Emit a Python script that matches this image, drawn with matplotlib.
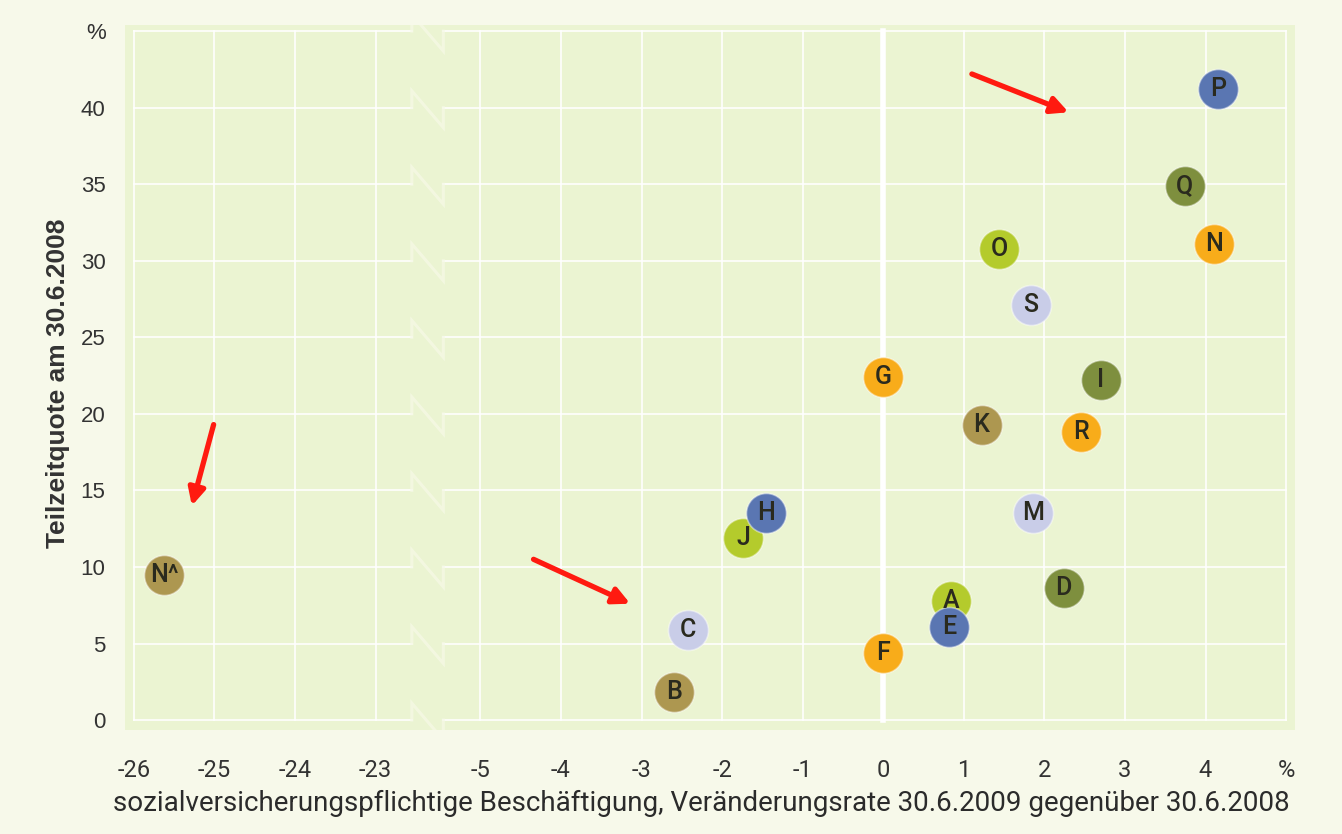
import numpy as np
import matplotlib
matplotlib.use('Agg')
import matplotlib.pyplot as plt

# ---- data ----
labels = ['P', 'Q', 'N', 'O', 'S', 'G', 'I', 'K', 'R', 'J', 'H', 'M', 'D', 'A', 'E', 'C', 'F', 'B', 'N^']
x_change = [4.15, 3.74, 4.10, 1.44, 1.83, 0.0, 2.70, 1.22, 2.45, -1.74, -1.46, 1.86, 2.24, 0.84, 0.82, -2.42, 0.0, -2.60, -25.62]
y_part = [41.2, 34.9, 31.1, 30.8, 27.1, 22.4, 22.2, 19.3, 18.8, 11.9, 13.5, 13.5, 8.6, 7.8, 6.1, 5.9, 4.4, 1.8, 9.5]
groups = ['blue', 'olive', 'orange', 'lime', 'lav', 'orange', 'olive', 'tan', 'orange', 'lime', 'blue', 'lav', 'olive', 'lime', 'blue', 'lav', 'orange', 'tan', 'tan']

x_ticks = [-26, -25, -24, -23, -5, -4, -3, -2, -1, 0, 1, 2, 3, 4, 5]
x_ticklabels = ['-26', '-25', '-24', '-23', '-5', '-4', '-3', '-2', '-1', '0', '1', '2', '3', '4', '%']
y_ticks = [0, 5, 10, 15, 20, 25, 30, 35, 40, 45]
y_ticklabels = ['0', '5', '10', '15', '20', '25', '30', '35', '40', '%']

# annotation arrows (start, end) in data coords
arrow_start = [(1.10, 42.2), (-25.01, 19.3), (-4.34, 10.5)]
arrow_end = [(2.30, 39.7), (-25.28, 14.0), (-3.14, 7.6)]

palette = {'blue': '#5a76b2', 'olive': '#7e8f3e', 'orange': '#f8ac1a',
           'lime': '#b4cb2c', 'lav': '#c9cde8', 'tan': '#ad9750'}

# ---- broken x-axis scale ----
def fwd(x):
    x = np.asarray(x, dtype=float)
    return np.where(x < -14, x + 26.0, x + 9.3)

def inv(u):
    u = np.asarray(u, dtype=float)
    return np.where(u < 3.65, u - 26.0, u - 9.3)

NARROW = ['Roboto', 'DejaVu Sans']
ARIAL = ['Liberation Sans', 'DejaVu Sans']

fig = plt.figure(figsize=(13.42, 8.34), dpi=100, facecolor='#f7f9ea')
ax = fig.add_axes([125 / 1342, 1 - 730 / 834, (1295 - 125) / 1342, (730 - 25) / 834])
ax.set_facecolor('#ebf4d2')
ax.set_xscale('function', functions=(fwd, inv))
ax.set_xlim(-26.11, 5.11)
ax.set_ylim(-0.65, 45.4)
for s in ax.spines.values():
    s.set_visible(False)

grid_c = '#ffffff'
brk_l, brk_r = -22.55, -5.46
# horizontal grid lines with gap at the break
for v in y_ticks:
    ax.plot([-26, brk_l], [v, v], color=grid_c, lw=1.3, alpha=0.9, zorder=1)
    ax.plot([brk_r, 5], [v, v], color=grid_c, lw=1.3, alpha=0.9, zorder=1)
    ax.plot([brk_l, brk_l, brk_r, brk_r], [v, v + 1.1, v - 1.3, v],
            color='#f6f9e6', lw=2.2, alpha=0.75, zorder=1, solid_joinstyle='miter')
# vertical grid lines
for xv in x_ticks:
    if xv == 0:
        continue
    ax.plot([xv, xv], [0, 45], color=grid_c, lw=1.3, alpha=0.9, zorder=1)
ax.plot([0, 0], [0, 45], color='#ffffff', lw=4.0, zorder=1.5)

# points
cols = [palette[g] for g in groups]
for xi, yi, lab, c in zip(x_change, y_part, labels, cols):
    ax.scatter([xi], [yi], s=830, color=c, edgecolors=(1, 1, 1, 0.45), linewidths=1.2, zorder=3)
    ax.text(xi, yi, lab, ha='center', va='center', fontsize=18, fontweight='medium',
            color='#2a2a1e', family=NARROW, zorder=4)

# red arrows
for (x0, y0), (x1, y1) in zip(arrow_start, arrow_end):
    ax.annotate('', xy=(x1, y1), xytext=(x0, y0),
                arrowprops=dict(arrowstyle='-|>,head_length=1.0,head_width=0.5',
                                color='#ff1a10', lw=3.8, shrinkA=0, shrinkB=0),
                zorder=5)

ax.set_xticks(x_ticks)
ax.set_xticklabels(x_ticklabels, family=NARROW, fontsize=17, color='#333333')
ax.set_yticks(y_ticks)
ax.set_yticklabels(y_ticklabels, family=ARIAL, fontsize=16, color='#333333')
ax.tick_params(axis='x', length=0, pad=21)
ax.tick_params(axis='y', length=0, pad=14)

fig.text(1290 / 1342, 1 - 803 / 834,
         'sozialversicherungspflichtige Beschäftigung, Veränderungsrate 30.6.2009 gegenüber 30.6.2008',
         ha='right', va='center', fontsize=20, family=NARROW, color='#2b2b2b')
fig.text(58 / 1342, 1 - 383 / 834, 'Teilzeitquote am 30.6.2008', rotation=90,
         ha='center', va='center', fontsize=19, fontweight='bold', family=ARIAL, color='#333333')

fig.savefig('out.png', dpi=100, facecolor=fig.get_facecolor())
